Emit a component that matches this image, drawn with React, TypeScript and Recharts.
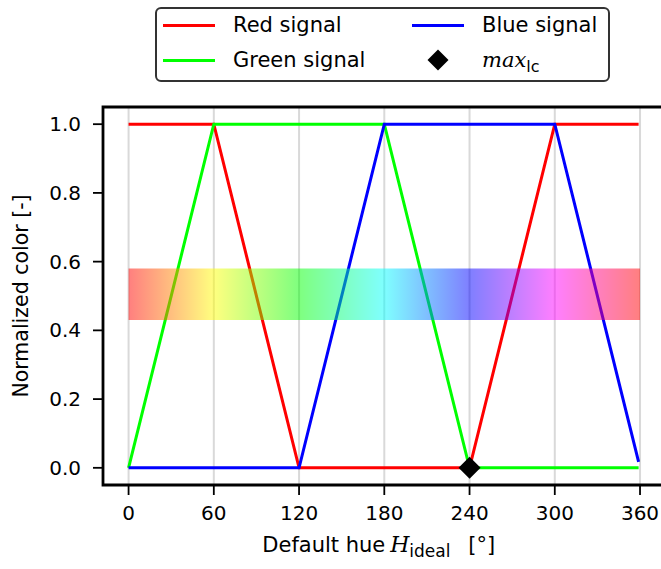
import { ComposedChart, Line, Scatter, XAxis, YAxis, CartesianGrid, ReferenceArea } from 'recharts';

// hue knots of the piecewise-linear RGB signals
const hues = [0, 60, 120, 180, 240, 300, 359];
const redSignal = [1, 1, 0, 0, 0, 1, 1];
const greenSignal = [0, 1, 1, 1, 0, 0, 0];
const blueSignal = [0, 0, 0, 1, 1, 1, 0.017];

const maxLcHue = [240];
const maxLcValue = [0];

const xTicks = [0, 60, 120, 180, 240, 300, 360];
const yTicks = [0, 0.2, 0.4, 0.6, 0.8, 1.0];
const rainbowHues = [0, 60, 120, 180, 240, 300, 360];
const bandRange = [0.43, 0.58];

const series = [
  { key: 'red', name: 'Red signal', color: '#ff0000' },
  { key: 'green', name: 'Green signal', color: '#00ff00' },
  { key: 'blue', name: 'Blue signal', color: '#0000ff' },
];

const data = hues.map((h, i) => ({ h, red: redSignal[i], green: greenSignal[i], blue: blueSignal[i] }));
const maxLcData = maxLcHue.map((h, i) => ({ h, v: maxLcValue[i] }));

const FONT = '"DejaVu Sans", sans-serif';
const SERIF = '"DejaVu Serif", serif';
const X_DOMAIN = [-18, 378];
const Y_DOMAIN = [-0.05, 1.05];

function Diamond(props: any) {
  const { cx, cy } = props;
  const r = 11;
  return <polygon points={`${cx},${cy - r} ${cx + r},${cy} ${cx},${cy + r} ${cx - r},${cy}`} fill="#000" />;
}

function XLabel(props: any) {
  const vb = props.viewBox;
  const c = vb.x + vb.width / 2;
  return (
    <text y={552} fontFamily={FONT} fontSize={21} fill="#000">
      <tspan x={c - 122}>Default hue</tspan>
      <tspan x={c + 6} fontStyle="italic" fontFamily={SERIF} fontSize={22}>H</tspan>
      <tspan x={c + 25} fontSize={17} dy={5}>ideal</tspan>
      <tspan x={c + 84} dy={-5}>[°]</tspan>
    </text>
  );
}

function YLabel(props: any) {
  const vb = props.viewBox;
  const cy = vb.y + vb.height / 2;
  return (
    <text x={21} y={cy} transform={`rotate(-90, 21, ${cy})`} textAnchor="middle" dominantBaseline="central"
      fontFamily={FONT} fontSize={20.5} fill="#000">
      Normalized color [-]
    </text>
  );
}

// legend slots: [series/marker, column, row]
const legendSlots: [string, number, number][] = [['red', 0, 0], ['green', 0, 1], ['blue', 1, 0], ['max', 1, 1]];

function LegendBox() {
  const colX = [6, 255];
  const rowY = [16, 51];
  return (
    <div style={{
      position: 'absolute', left: 155, top: 7, width: 451, height: 71, border: '2px solid #333',
      borderRadius: 6, background: '#fff', fontFamily: FONT, fontSize: 21, color: '#000',
    }}>
      {legendSlots.map(([key, col, row]) => {
        const s = series.find((q) => q.key === key);
        const x = colX[col];
        const y = rowY[row];
        return (
          <div key={key}>
            {s ? (
              <div style={{ position: 'absolute', left: x, top: y - 1.5, width: 52, height: 3, background: s.color }} />
            ) : (
              <svg style={{ position: 'absolute', left: x + 15, top: y - 11 }} width={22} height={22}>
                <polygon points="11,0.5 21.5,11 11,21.5 0.5,11" fill="#000" />
              </svg>
            )}
            <div style={{ position: 'absolute', left: x + 70, top: y - 13, lineHeight: '26px', whiteSpace: 'nowrap' }}>
              {s ? s.name : (
                <span><i style={{ fontFamily: SERIF }}>max</i><span style={{ fontSize: 16, position: 'relative', top: 5 }}>lc</span></span>
              )}
            </div>
          </div>
        );
      })}
    </div>
  );
}

export default function App() {
  return (
    <div style={{ position: 'absolute', left: 0, top: 0, width: 661, height: 569, overflow: 'hidden', background: '#fff' }}>
      <ComposedChart width={680} height={569} data={data} margin={{ top: 107, right: 14.4, bottom: 24, left: 0 }}>
        <defs>
          <linearGradient id="rainbow" x1="0" y1="0" x2="1" y2="0">
            {rainbowHues.map((h) => (
              <stop key={h} offset={`${(h / 360) * 100}%`} stopColor={`hsl(${h % 360}, 100%, 50%)`} />
            ))}
          </linearGradient>
        </defs>
        <CartesianGrid horizontal={false} stroke="#d9d9d9" strokeWidth={2} />
        <XAxis type="number" dataKey="h" domain={X_DOMAIN} ticks={xTicks} allowDataOverflow axisLine={false}
          tickLine={{ stroke: '#000', strokeWidth: 1.8 }} tickSize={10} tickMargin={11} height={60}
          tick={{ fill: '#000', fontSize: 20, fontFamily: FONT }} label={<XLabel />} />
        <YAxis type="number" domain={Y_DOMAIN} ticks={yTicks} allowDataOverflow axisLine={false} width={103}
          tickLine={{ stroke: '#000', strokeWidth: 1.8 }} tickSize={10} tickMargin={12}
          tickFormatter={(v: number) => v.toFixed(1)}
          tick={{ fill: '#000', fontSize: 20, fontFamily: FONT }} label={<YLabel />} />
        {series.map((s) => (
          <Line key={s.key} type="linear" dataKey={s.key} name={s.name} stroke={s.color} strokeWidth={3}
            dot={false} activeDot={false} isAnimationActive={false} />
        ))}
        <ReferenceArea x1={0} x2={360} y1={bandRange[0]} y2={bandRange[1]} fill="url(#rainbow)" fillOpacity={0.5}
          stroke="none" zIndex={450} />
        <ReferenceArea x1={X_DOMAIN[0]} x2={X_DOMAIN[1]} y1={Y_DOMAIN[0]} y2={Y_DOMAIN[1]} fill="none"
          stroke="#000" strokeWidth={2.8} fillOpacity={0} zIndex={500} />
        <Scatter data={maxLcData} dataKey="v" name="max_lc" shape={<Diamond />} isAnimationActive={false} />
      </ComposedChart>
      <LegendBox />
    </div>
  );
}
